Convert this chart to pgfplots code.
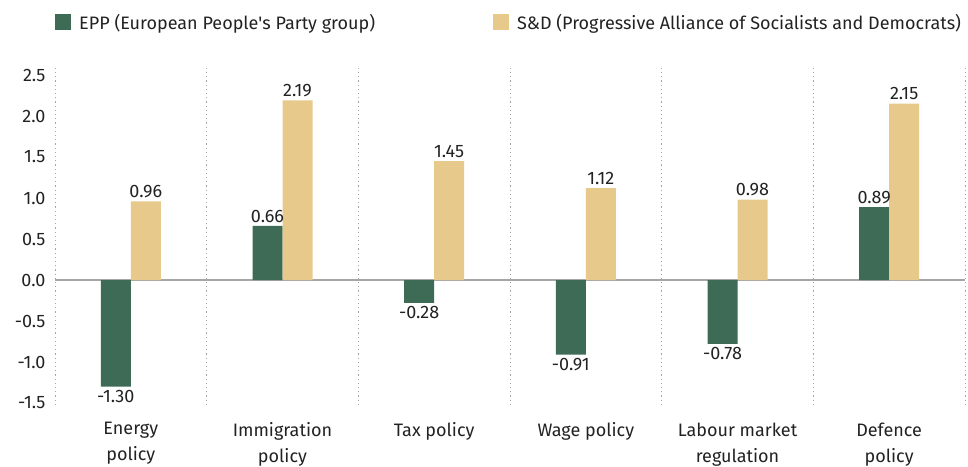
\documentclass[border=0pt]{standalone}
\usepackage{fontspec}
\setmainfont{Fira Sans}
\usepackage{pgfplots}
\pgfplotsset{compat=1.18}
\definecolor{epp}{HTML}{3D6B55}
\definecolor{snd}{HTML}{E8C98C}
\definecolor{txt}{HTML}{222222}
\definecolor{gridc}{HTML}{A6A6A6}
\begin{document}
\begin{tikzpicture}[x=1pt,y=1pt]
\useasboundingbox (0,0) rectangle (968,466);
\begin{axis}[
  at={(55pt,61pt)}, anchor=south west,
  scale only axis, width=910pt, height=340pt,
  xmin=-0.5, xmax=5.5, ymin=-1.524, ymax=2.622,
  ybar=0pt, bar width=30pt,
  axis line style={draw=none},
  major tick length=0pt,
  font=\fontsize{18}{24}\selectfont,
  xtick={0,1,2,3,4,5},
  xticklabels={{Energy\\policy},{Immigration\\policy},{Tax policy},{Wage policy},{Labour market\\regulation},{Defence\\policy}},
  xticklabel style={align=center, text=txt, anchor=north, yshift=-14pt, font=\fontsize{18}{26}\selectfont},
  extra x ticks={-0.5,0.5,1.5,2.5,3.5,4.5,5.5},
  extra x tick labels={},
  extra x tick style={grid=major, major grid style={gridc, line width=1pt, dash pattern=on 1.2pt off 3pt}},
  ytick={-1.5,-1,-0.5,0,0.5,1,1.5,2,2.5},
  yticklabel style={text=txt, anchor=east, xshift=-6pt, /pgf/number format/.cd, fixed, zerofill, precision=1, assume math mode=true},
  extra y ticks={0},
  extra y tick labels={},
  extra y tick style={grid=major, major grid style={gridc, line width=1.2pt, solid}},
  nodes near coords={\pgfmathprintnumber[fixed,zerofill,precision=2,assume math mode=true]{\pgfplotspointmeta}},
  every node near coord/.append style={text=txt, font=\fontsize{18}{20}\selectfont},
  legend columns=2,
  legend style={at={(0,1)}, anchor=south west, yshift=32pt, draw=none, fill=none, inner sep=0pt,
    font=\fontsize{18}{20}\selectfont, text=txt,
    /tikz/every odd column/.append style={column sep=6pt},
    /tikz/every even column/.append style={column sep=116pt}},
  legend image code/.code={\fill[#1] (0pt,-8pt) rectangle (16pt,8pt);},
]
\addplot[fill=epp, draw=none] coordinates {(0,-1.30) (1,0.66) (2,-0.28) (3,-0.91) (4,-0.78) (5,0.89)};
\addplot[fill=snd, draw=none] coordinates {(0,0.96) (1,2.19) (2,1.45) (3,1.12) (4,0.98) (5,2.15)};
\legend{EPP (European People\textquotesingle s Party group), S\&D (Progressive Alliance of Socialists and Democrats)}
\end{axis}
\end{tikzpicture}
\end{document}
